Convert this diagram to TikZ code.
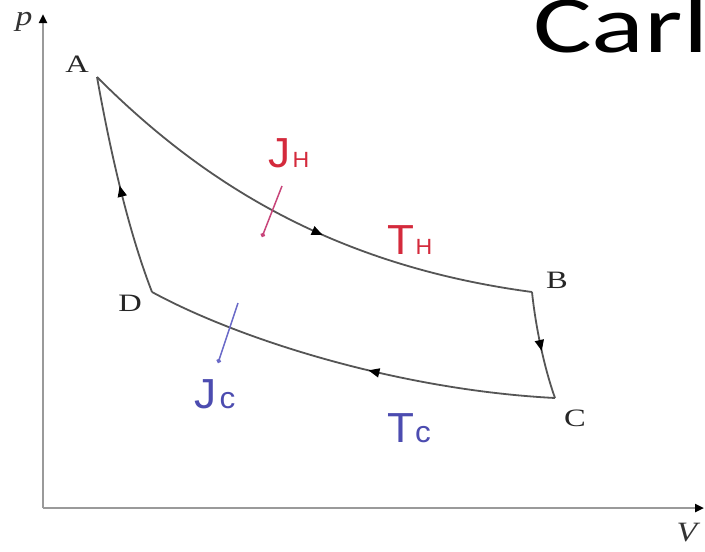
\documentclass[tikz,border=0pt]{standalone}
\usepackage{fontspec}
\setmainfont{Liberation Serif}
\newfontfamily\labelfont{Liberation Sans}
\newfontfamily\titlefont{Carlito}
\usetikzlibrary{arrows.meta,decorations.markings}
\definecolor{Curve}{HTML}{555555}
\definecolor{AxisGray}{HTML}{9A9A9A}
\definecolor{Hot}{HTML}{D42A3C}
\definecolor{HotLine}{HTML}{C8457A}
\definecolor{Cold}{HTML}{4C4CB0}
\definecolor{ColdLine}{HTML}{6A6AC8}
\tikzset{
  axis/.style={draw=AxisGray,line width=2.6pt,-{Triangle[length=9pt,width=8pt,color=black]}},
  curve/.style={draw=Curve,line width=1.8pt,line join=round},
  flowmark/.style={postaction={decorate},decoration={markings,mark=at position #1 with {\arrow{Triangle[length=11pt,width=9pt,color=black]}}}},
  corner/.style={font=\fontsize{25}{25}\selectfont,text=black!85,inner sep=0pt,xscale=1.3},
  axislabel/.style={font=\fontsize{28}{28}\selectfont\itshape,text=black!80,inner sep=0pt,xscale=1.2},
  heat/.style={line width=1.5pt,-{Circle[length=4.5pt]}},
  symb/.style={font=\labelfont,inner sep=0pt,anchor=base,xscale=1.05}
}
\begin{document}
\begin{tikzpicture}[x=1pt,y=-1pt]
  \useasboundingbox[fill=white] (0,0) rectangle (705,552);
  \clip (0,0) rectangle (705,552);
  % title, cut at the right edge
  \node[anchor=base west,inner sep=0pt,xscale=1.36,font=\titlefont\fontsize{81}{81}\selectfont] (title) at (533,52) {Carl};
  % axes
  \coordinate (O) at (43,508);
  \coordinate (ptop) at (43,14);
  \coordinate (vend) at (704,508);
  \draw[axis] (O) -- (ptop);
  \draw[axis] (O) -- (vend);
  \node[axislabel] (plab) at (24,22) {p};
  \node[axislabel] (vlab) at (687,533) {V};
  % corners of the cycle
  \coordinate (A) at (97,77);
  \coordinate (B) at (532,292);
  \coordinate (C) at (555,398);
  \coordinate (D) at (152,292);
  \node[corner] (labA) at (77,64) {A};
  \node[corner] (labB) at (557,280) {B};
  \node[corner] (labC) at (575,418) {C};
  \node[corner] (labD) at (130,303) {D};
  % the four strokes
  \draw[curve,flowmark=.56] (A) .. controls (200,180) and (330,265) .. (B);
  \draw[curve,flowmark=.55] (B) .. controls (536,330) and (545,370) .. (C);
  \draw[curve,flowmark=.45] (C) .. controls (400,390) and (240,340) .. (D);
  \draw[curve,flowmark=.5] (D) .. controls (128,230) and (110,150) .. (A);
  % heat flows
  \coordinate (jhTop) at (282,186);
  \coordinate (jhEnd) at (262,237);
  \coordinate (jcTop) at (238,303);
  \coordinate (jcEnd) at (218,363);
  \draw[heat,HotLine] (jhTop) -- (jhEnd);
  \draw[heat,ColdLine] (jcTop) -- (jcEnd);
  \node[symb,text=Hot] (jh) at (289,167) {\fontsize{42}{42}\selectfont J\kern2pt\fontsize{22}{22}\selectfont H};
  \node[symb,text=Hot] (th) at (410,254) {\fontsize{42}{42}\selectfont T\kern1pt\fontsize{22}{22}\selectfont H};
  \node[symb,text=Cold] (jc) at (215,408) {\fontsize{42}{42}\selectfont J\kern3pt\fontsize{30}{30}\selectfont c};
  \node[symb,text=Cold] (tc) at (409,442) {\fontsize{42}{42}\selectfont T\kern1pt\fontsize{30}{30}\selectfont c};
\end{tikzpicture}
\end{document}
